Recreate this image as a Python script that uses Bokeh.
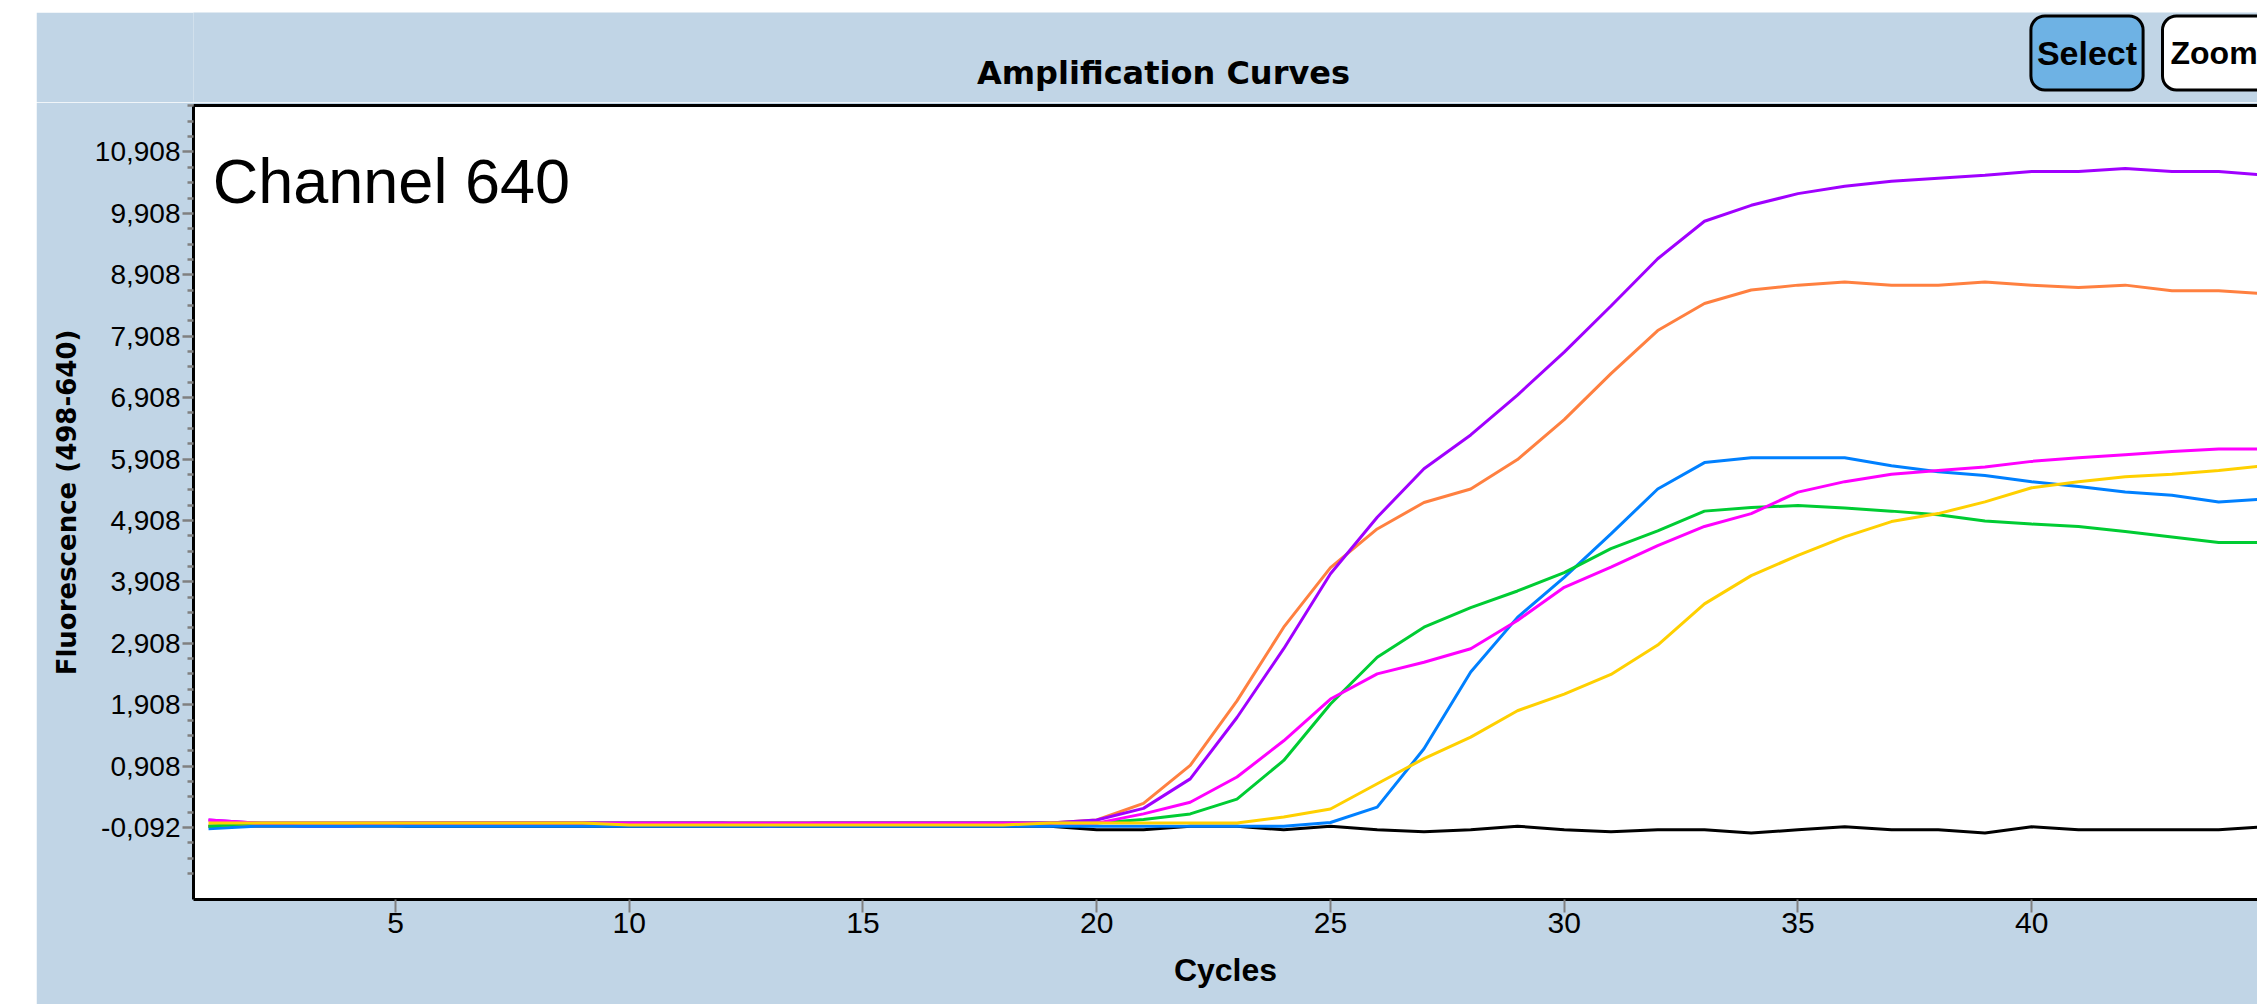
from bokeh.plotting import figure
from bokeh.models import Range1d, FixedTicker, LinearAxis, Label, Spacer
from bokeh.layouts import column, row
from bokeh.embed import file_html
from bokeh.resources import INLINE

# ---------------- data ----------------
cycles = list(range(1, 46))

purple = [0.03, -0.02, -0.07, -0.07, -0.02, -0.02, -0.02, -0.02, -0.02, -0.02,
          -0.02, -0.02, -0.07, -0.02, -0.02, -0.02, -0.02, -0.02, -0.02, 0.03,
          0.22, 0.70, 1.70, 2.82, 4.04, 4.96, 5.75, 6.30, 6.95, 7.65,
          8.40, 9.17, 9.78, 10.04, 10.23, 10.35, 10.43, 10.48, 10.53, 10.59,
          10.59, 10.64, 10.59, 10.59, 10.53]
orange = [-0.07, -0.07, -0.07, -0.07, -0.07, -0.02, -0.02, -0.02, -0.02, -0.02,
          -0.02, -0.02, -0.02, -0.02, -0.02, -0.02, -0.02, -0.02, -0.02, 0.03,
          0.30, 0.92, 1.97, 3.17, 4.14, 4.77, 5.20, 5.42, 5.90, 6.55,
          7.30, 8.00, 8.44, 8.66, 8.74, 8.79, 8.74, 8.74, 8.79, 8.74,
          8.70, 8.74, 8.65, 8.65, 8.60]
blue = [-0.11, -0.07, -0.07, -0.07, -0.07, -0.07, -0.07, -0.07, -0.07, -0.07,
        -0.07, -0.07, -0.07, -0.07, -0.07, -0.07, -0.07, -0.07, -0.07, -0.07,
        -0.07, -0.07, -0.07, -0.07, -0.01, 0.24, 1.19, 2.44, 3.33, 3.98,
        4.69, 5.42, 5.85, 5.93, 5.93, 5.93, 5.80, 5.70, 5.64, 5.54,
        5.46, 5.37, 5.32, 5.21, 5.26]
green = [-0.07, -0.02, -0.02, -0.02, -0.02, -0.02, -0.02, -0.02, -0.02, -0.02,
         -0.02, -0.02, -0.02, -0.02, -0.02, -0.02, -0.02, -0.02, -0.02, -0.02,
         0.04, 0.13, 0.37, 1.00, 1.92, 2.68, 3.17, 3.49, 3.76, 4.06,
         4.45, 4.74, 5.06, 5.12, 5.15, 5.11, 5.06, 5.00, 4.90, 4.85,
         4.81, 4.73, 4.64, 4.55, 4.55]
magenta = [0.03, -0.02, -0.02, -0.02, -0.02, -0.02, -0.02, -0.02, -0.02, -0.02,
           -0.02, -0.02, -0.02, -0.02, -0.02, -0.02, -0.02, -0.02, -0.02, -0.02,
           0.13, 0.32, 0.73, 1.32, 2.00, 2.41, 2.60, 2.82, 3.28, 3.82,
           4.15, 4.50, 4.81, 5.02, 5.37, 5.54, 5.66, 5.72, 5.78, 5.87,
           5.93, 5.98, 6.03, 6.07, 6.07]
yellow = [-0.02, -0.02, -0.02, -0.02, -0.02, -0.02, -0.02, -0.02, -0.02, -0.05,
          -0.05, -0.05, -0.05, -0.05, -0.05, -0.05, -0.05, -0.05, -0.02, -0.02,
          -0.02, -0.02, -0.02, 0.08, 0.21, 0.62, 1.03, 1.38, 1.81, 2.08,
          2.40, 2.88, 3.55, 4.01, 4.34, 4.64, 4.89, 5.02, 5.21, 5.44,
          5.54, 5.62, 5.66, 5.72, 5.80]
black = [-0.07, -0.07, -0.07, -0.07, -0.07, -0.07, -0.07, -0.07, -0.07, -0.07,
         -0.07, -0.07, -0.07, -0.07, -0.07, -0.07, -0.07, -0.07, -0.07, -0.13,
         -0.13, -0.07, -0.07, -0.13, -0.07, -0.13, -0.16, -0.13, -0.07, -0.13,
         -0.16, -0.13, -0.13, -0.18, -0.13, -0.08, -0.13, -0.13, -0.18, -0.08,
         -0.13, -0.13, -0.13, -0.13, -0.08]

series_names = ["black", "orange", "purple", "blue", "green", "magenta", "yellow"]
series_values = [black, orange, purple, blue, green, magenta, yellow]
series_colors = ["#000000", "#FF8040", "#A000FF", "#0080FF", "#00CC33", "#FF00FF", "#FFD000"]

x_ticks = [5, 10, 15, 20, 25, 30, 35, 40, 45]
y_ticks = [-0.092, 0.908, 1.908, 2.908, 3.908, 4.908, 5.908, 6.908, 7.908, 8.908, 9.908, 10.908]
y_tick_labels = ["-0,092", "0,908", "1,908", "2,908", "3,908", "4,908", "5,908",
                 "6,908", "7,908", "8,908", "9,908", "10,908"]

# ---------------- styles ----------------
PANEL = "#C1D5E6"
SELECT_FILL = "#6EB2E4"
TICK_GRAY = "#808080"
SANS = "Liberation Sans"
W = 2221
LEFT = 157
HEADER_H = 90
MAIN_H = 902

# ---------------- header (title + buttons) ----------------
header = figure(width=W, height=HEADER_H, x_range=Range1d(LEFT, W), y_range=Range1d(0, HEADER_H),
                x_axis_type=None, y_axis_type=None, output_backend="svg",
                toolbar_location=None, min_border_left=LEFT, min_border_right=0,
                min_border_top=0, min_border_bottom=0, outline_line_color=None,
                background_fill_color=PANEL, border_fill_color=PANEL)
header.grid.visible = False

header.add_layout(Label(x=1127, y=30, text="Amplification Curves", text_font="DejaVu Sans",
                        text_font_style="bold", text_font_size="32px", text_align="center",
                        text_baseline="alphabetic", text_color="black"))
header.add_layout(Label(x=2050.5, y=49.5, text="Select", text_align="center", text_baseline="middle",
                        text_font=SANS, text_font_style="bold", text_font_size="34px",
                        text_color="black", background_fill_color=SELECT_FILL,
                        border_line_color="black", border_line_width=3, border_radius=14,
                        padding=dict(left=6, right=6, top=18, bottom=18)))
header.add_layout(Label(x=2126, y=49.5, text="Zoom", text_align="left", text_baseline="middle",
                        text_font=SANS, text_font_style="bold", text_font_size="32px",
                        text_color="black", background_fill_color="white",
                        border_line_color="black", border_line_width=3, border_radius=14,
                        padding=dict(left=8, right=14, top=19, bottom=19)))

# ---------------- main plot ----------------
p = figure(width=W, height=MAIN_H, x_range=Range1d(0.679, 44.83), y_range=Range1d(-1.264, 11.665),
           output_backend="svg", toolbar_location=None,
           min_border_left=LEFT, min_border_right=0, min_border_top=3, min_border_bottom=105,
           outline_line_color=None, background_fill_color="white", border_fill_color=PANEL)
p.grid.visible = False

for vals, col in zip(series_values, series_colors):
    p.line(cycles, vals, line_color=col, line_width=3)

xa = p.xaxis[0]
xa.ticker = FixedTicker(ticks=x_ticks, minor_ticks=[])
xa.axis_line_color = "black"
xa.axis_line_width = 3
xa.major_tick_out = 13
xa.major_tick_in = 0
xa.minor_tick_out = 0
xa.minor_tick_in = 0
xa.major_tick_line_color = TICK_GRAY
xa.major_tick_line_width = 2
xa.major_label_standoff = 0
xa.major_label_text_font = SANS
xa.major_label_text_font_size = "30px"
xa.major_label_text_color = "black"
xa.axis_label = "Cycles"
xa.axis_label_text_font = SANS
xa.axis_label_text_font_style = "bold"
xa.axis_label_text_font_size = "32px"
xa.axis_label_text_color = "black"
xa.axis_label_standoff = 16

ya = p.yaxis[0]
y_minor = [t + k * 0.25 for t in [y_ticks[0] - 1] + y_ticks for k in range(1, 4)]
ya.ticker = FixedTicker(ticks=y_ticks, minor_ticks=y_minor)
ya.major_label_overrides = {t: lab for t, lab in zip(y_ticks, y_tick_labels)}
ya.axis_line_color = "black"
ya.axis_line_width = 3
ya.major_tick_out = 11
ya.major_tick_in = 0
ya.minor_tick_out = 6
ya.minor_tick_in = 0
ya.major_tick_line_color = TICK_GRAY
ya.minor_tick_line_color = TICK_GRAY
ya.major_tick_line_width = 2.5
ya.minor_tick_line_width = 2.5
ya.major_label_standoff = 2
ya.major_label_text_font = SANS
ya.major_label_text_font_size = "28px"
ya.major_label_text_color = "black"
ya.axis_label = "Fluorescence (498-640)"
ya.axis_label_text_font = "DejaVu Sans"
ya.axis_label_text_font_style = "bold"
ya.axis_label_text_font_size = "26px"
ya.axis_label_text_color = "black"
ya.axis_label_standoff = 10

top_axis = LinearAxis(ticker=FixedTicker(ticks=[], minor_ticks=[]), major_tick_out=0, major_tick_in=0,
                      minor_tick_out=0, minor_tick_in=0, major_label_standoff=0,
                      major_label_text_font_size="0px", axis_line_color="black", axis_line_width=3)
p.add_layout(top_axis, "above")

p.add_layout(Label(x=1.09, y=10.44, text="Channel 640", text_font=SANS,
                   text_font_size="63px", text_color="black", text_baseline="alphabetic",
                   text_align="left"))

layout = column(Spacer(height=12), row(Spacer(width=36), column(header, p)))
open("out.html", "w").write(file_html(layout, INLINE))
